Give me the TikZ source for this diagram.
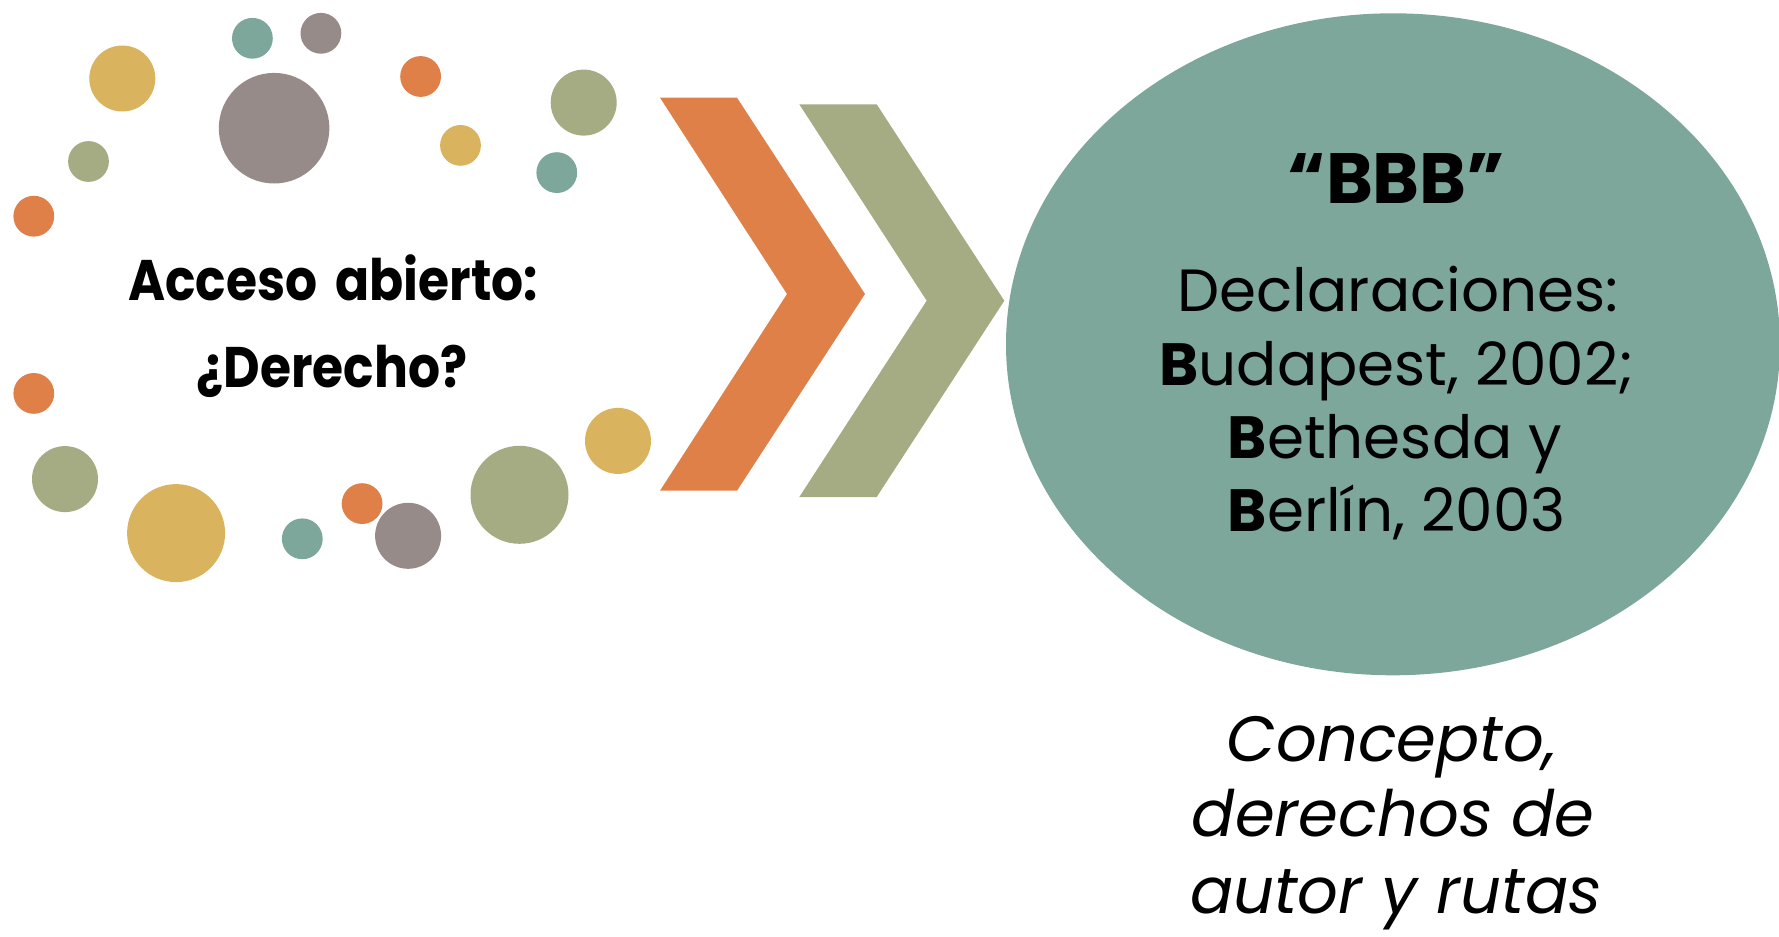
\documentclass[tikz,border=0pt]{standalone}
\usepackage{fontspec}
\setmainfont{Poppins}
\newfontfamily\narrowfont{Poppins}[FakeStretch=0.88, WordSpace=1.7]
\usetikzlibrary{shapes.geometric}

\definecolor{dotorange}{RGB}{223,128,73}
\definecolor{dotgreen}{RGB}{165,171,130}
\definecolor{dotteal}{RGB}{125,167,155}
\definecolor{dotgray}{RGB}{151,139,138}
\definecolor{dotyellow}{RGB}{217,179,94}

\begin{document}
\begin{tikzpicture}[x=0.5pt,y=-0.5pt,
                    every node/.style = {inner sep=0pt, anchor=base}]

\tikzstyle{lefttext}=[font=\fontsize{28.6}{34}\selectfont\narrowfont\bfseries]
\tikzstyle{titletext}=[font=\fontsize{35.6}{42}\selectfont\bfseries]
\tikzstyle{decltext}=[font=\fontsize{29.8}{36}\selectfont]
\tikzstyle{routetext}=[font=\fontsize{32}{38}\selectfont\itshape]

\useasboundingbox (0,0) rectangle (1779,937);
\clip (0,0) rectangle (1779,937);

\foreach \cx/\cy/\r/\c in {122.3/78.5/33/dotyellow, 252.4/38.3/20.4/dotteal,
		320.9/33.3/20.4/dotgray, 274.1/128.2/55.3/dotgray, 420.6/76.5/20.4/dotorange,
		583.7/102.6/33/dotgreen, 460.5/145.4/20.4/dotyellow, 556.8/172.6/20.4/dotteal,
		88.5/161.5/20.4/dotgreen, 33.8/216.2/20.4/dotorange, 33.8/393.4/20.4/dotorange,
		65/479.1/33/dotgreen, 176.1/533.1/49/dotyellow, 302.3/538.8/20.4/dotteal,
		362.1/503.6/20.4/dotorange, 408.1/535.8/33/dotgray, 519.5/494.8/49/dotgreen,
		618/440.9/33/dotyellow}
	\fill[\c] (\cx,\cy) circle (\r);

\node[lefttext] (acceso) at (333,300.4) {Acceso abierto:};
\node[lefttext] (derecho) at (332,387.3) {¿Derecho?};

\fill[dotorange] (660,97.7) -- (737,97.7) -- (865,294) -- (737,490.7) -- (660,490.7) -- (787,294) -- cycle;
\fill[dotgreen] (799.3,104.3) -- (876.7,104.3) -- (1004.3,300.7) -- (876.7,497) -- (799.3,497) -- (926.7,300.7) -- cycle;

\node[ellipse, fill=dotteal, minimum width=387pt, minimum height=331pt, anchor=center] (bbb) at (1393,344.3) {};

\node[titletext] (title) at (1396.4,203.3) {“BBB”};
\node[decltext] (decl) at (1398,311.7) {Declaraciones:};
\node[decltext] (budapest) at (1397,385) {\textbf{B}udapest, 2002;};
\node[decltext] (bethesda) at (1395,458.3) {\textbf{B}ethesda y};
\node[decltext] (berlin) at (1396.7,531.7) {\textbf{B}erlín, 2003};

\node[routetext] (concepto) at (1391.7,761.7) {Concepto,};
\node[routetext] (derechos) at (1393.3,836.7) {derechos de};
\node[routetext] (rutas) at (1396,913.3) {autor y rutas};
\end{tikzpicture}
\end{document}
